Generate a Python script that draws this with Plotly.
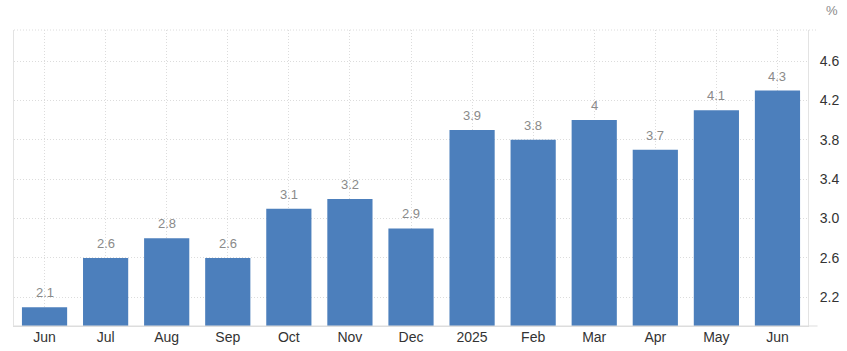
import plotly.graph_objects as go

categories = ["Jun 2024", "Jul 2024", "Aug 2024", "Sep 2024", "Oct 2024", "Nov 2024", "Dec 2024",
              "Jan 2025", "Feb 2025", "Mar 2025", "Apr 2025", "May 2025", "Jun 2025"]
tick_labels = ["Jun", "Jul", "Aug", "Sep", "Oct", "Nov", "Dec", "2025", "Feb", "Mar", "Apr", "May", "Jun"]
values = [2.1, 2.6, 2.8, 2.6, 3.1, 3.2, 2.9, 3.9, 3.8, 4, 3.7, 4.1, 4.3]
y_ticks = [2.2, 2.6, 3.0, 3.4, 3.8, 4.2, 4.6]

fig = go.Figure(go.Bar(
    x=categories, y=values,
    marker=dict(color="#4c7fbc", line=dict(width=0)),
    hoverinfo="x+y",
))

dotted = "1px,2px"

value_labels = [
    dict(x=c, y=v, xref="x", yref="y", text=f"{v:g}", showarrow=False,
         yanchor="bottom", yshift=5,
         font=dict(size=13, color="#8a8a8a", family="Liberation Sans, Arial"))
    for c, v in zip(categories, values)
]

fig.update_layout(
    width=847, height=351,
    margin=dict(l=14, r=39, t=30, b=25),
    plot_bgcolor="white", paper_bgcolor="white",
    bargap=0.26,
    showlegend=False,
    font=dict(family="Liberation Sans, Arial", color="#333333"),
    xaxis=dict(
        tickmode="array", tickvals=categories, ticktext=tick_labels,
        tickfont=dict(size=14, color="#333333"),
        showgrid=True, gridcolor="#dcdcdc", griddash=dotted, gridwidth=1,
        showline=True, linecolor="#dddddd", linewidth=1,
        ticks="", ticklabelstandoff=-2, automargin=False,
    ),
    yaxis=dict(
        side="right", range=[1.909, 4.915],
        tickmode="array", tickvals=y_ticks, ticktext=[f"{t:.1f}" for t in y_ticks],
        tickfont=dict(size=14, color="#333333"),
        showgrid=True, gridcolor="#dcdcdc", griddash=dotted, gridwidth=1,
        showline=True, linecolor="#e3e3e3", linewidth=1, mirror=True,
        ticks="", ticklabelstandoff=8, zeroline=False, automargin=False,
    ),
    shapes=[
        dict(type="line", xref="paper", yref="paper", x0=0, x1=1.012, y0=1, y1=1,
             line=dict(color="#dcdcdc", width=1, dash=dotted)),
        dict(type="line", xref="paper", yref="paper", x0=0, x1=1.012, y0=0, y1=0,
             line=dict(color="#dddddd", width=1)),
    ],
    annotations=value_labels + [
        dict(text="%", xref="paper", yref="paper", x=1.02, y=1.0, yshift=20,
             xanchor="left", yanchor="middle", showarrow=False,
             font=dict(size=13, color="#8a8a8a"))],
)

fig.write_html("out.html")
